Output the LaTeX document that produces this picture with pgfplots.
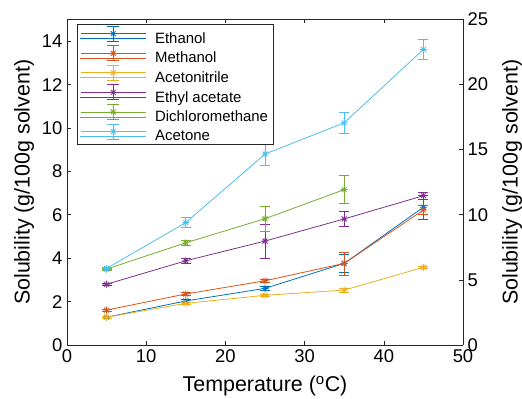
\documentclass[border=0pt]{standalone}
\usepackage{pgfplots}
\pgfplotsset{compat=1.18}
\usepackage{fontspec}
\setmainfont{Liberation Sans}
\usetikzlibrary{calc}
\definecolor{c1}{rgb}{0,0.447,0.741}
\definecolor{c2}{rgb}{0.85,0.325,0.098}
\definecolor{c3}{rgb}{0.929,0.694,0.125}
\definecolor{c4}{rgb}{0.494,0.184,0.556}
\definecolor{c5}{rgb}{0.466,0.674,0.188}
\definecolor{c6}{rgb}{0.301,0.745,0.933}
\definecolor{axgray}{rgb}{0.15,0.15,0.15}
\pgfdeclareplotmark{mstar}{%
 \pgfpathmoveto{\pgfqpoint{-\pgfplotmarksize}{0pt}}\pgfpathlineto{\pgfqpoint{\pgfplotmarksize}{0pt}}%
 \pgfpathmoveto{\pgfqpoint{0pt}{-\pgfplotmarksize}}\pgfpathlineto{\pgfqpoint{0pt}{\pgfplotmarksize}}%
 \pgfpathmoveto{\pgfqpoint{-0.707\pgfplotmarksize}{-0.707\pgfplotmarksize}}\pgfpathlineto{\pgfqpoint{0.707\pgfplotmarksize}{0.707\pgfplotmarksize}}%
 \pgfpathmoveto{\pgfqpoint{-0.707\pgfplotmarksize}{0.707\pgfplotmarksize}}\pgfpathlineto{\pgfqpoint{0.707\pgfplotmarksize}{-0.707\pgfplotmarksize}}%
 \pgfusepathqstroke}
\pgfplotstableread{
x y e
5 1.28 0.05
15 2.03 0.06
25 2.61 0.10
35 3.76 0.42
45 6.35 0.55
}\ethanol
\pgfplotstableread{
x y e
5 1.61 0.04
15 2.35 0.06
25 2.96 0.07
35 3.76 0.53
45 6.22 0.20
}\methanol
\pgfplotstableread{
x y e
5 1.28 0.05
15 1.92 0.06
25 2.29 0.05
35 2.53 0.10
45 3.58 0.06
}\acetonitrile
\pgfplotstableread{
x y e
5 2.80 0.05
15 3.88 0.10
25 4.79 0.78
35 5.81 0.33
45 6.88 0.15
}\ethylacetate
\pgfplotstableread{
x y e
5 3.50 0.05
15 4.71 0.10
25 5.82 0.58
35 7.16 0.65
}\dcm
\pgfplotstableread{
x y e
5 3.53 0.05
15 5.64 0.23
25 8.80 0.54
35 10.24 0.50
45 13.62 0.47
}\acetone
\begin{document}
\begin{tikzpicture}[x=1bp,y=1bp]
\pgfplotsset{
  mybase/.style={
    width=396bp, height=325.5bp, scale only axis,
    xmin=0, xmax=50,
    axis line style={axgray, line width=0.6bp},
    every tick/.style={axgray, line width=0.6bp},
    major tick length=4bp,
    tick align=inside,
    ticklabel style={font=\fontsize{18.5}{19}\selectfont, text=black},
    /pgf/number format/assume math mode=true,
    label style={font=\fontsize{21.5}{22}\selectfont},
  },
  myser/.style={color=#1, line width=0.8bp, mark=mstar, mark size=3.5bp,
    mark options={solid, line width=0.8bp},
    error bars/.cd, y dir=both, y explicit,
    error bar style={line width=0.8bp, color=#1},
    error mark options={rotate=90, mark size=5bp, line width=0.8bp, color=#1}},
}
\begin{axis}[mybase,
  ymin=0, ymax=15,
  xtick={0,10,...,50}, ytick={0,2,...,14},
  xtick pos=both, ytick pos=left,
  axis y line*=left,
  xticklabel style={yshift=-1bp},
  yticklabel style={xshift=-1bp},
  xlabel={Temperature ($^{\mathrm{o}}$C)},
  ylabel={Solubility (g/100g solvent)},
  xlabel style={at={(rel axis cs:0.5,0)}, anchor=center, yshift=-41bp},
  ylabel style={at={(rel axis cs:0,0.5)}, anchor=center, yshift=43bp},
  legend cell align=left,
  legend style={at={(rel axis cs:0,1)}, anchor=north west, xshift=10bp, yshift=-4.5bp,
    draw=axgray, line width=0.6bp,
    font=\fontsize{15}{16}\selectfont, inner xsep=2bp, inner ysep=1.5bp, row sep=0bp,
    nodes={inner xsep=3bp, inner ysep=0.5bp},
    /tikz/every odd column/.append style={column sep=6bp}},
  legend image code/.code={
    \path (0bp,0bp) -- (66bp,0bp);
    \begin{scope}[yshift=5bp]
    \draw[#1] (1bp,0bp) -- (66bp,0bp);
    \draw[#1] (33.5bp,-7.5bp) -- (33.5bp,7.5bp) (27.5bp,-7.5bp) -- (39.5bp,-7.5bp) (27.5bp,7.5bp) -- (39.5bp,7.5bp);
    \draw[#1] (30bp,0bp) -- (37bp,0bp) (33.5bp,-3.5bp) -- (33.5bp,3.5bp)
      (31.03bp,-2.47bp) -- (35.97bp,2.47bp) (31.03bp,2.47bp) -- (35.97bp,-2.47bp);
    \end{scope}
  },
]
\coordinate (bl) at (rel axis cs:0,0);
\coordinate (tr) at (rel axis cs:1,1);
\draw[axgray, line width=0.6bp] (rel axis cs:0,1) -- (rel axis cs:1,1);
\addplot[myser=c1] table[x=x,y=y,y error=e] {\ethanol};
\addlegendentry{Ethanol}
\addplot[myser=c2] table[x=x,y=y,y error=e] {\methanol};
\addlegendentry{Methanol}
\addplot[myser=c3] table[x=x,y=y,y error=e] {\acetonitrile};
\addlegendentry{Acetonitrile}
\addplot[myser=c4] table[x=x,y=y,y error=e] {\ethylacetate};
\addlegendentry{Ethyl acetate}
\addplot[myser=c5] table[x=x,y=y,y error=e] {\dcm};
\addlegendentry{Dichloromethane}
\addplot[myser=c6] table[x=x,y=y,y error=e] {\acetone};
\addlegendentry{Acetone}
\end{axis}
\begin{axis}[mybase,
  ymin=0, ymax=25, ytick={0,5,...,25},
  axis y line*=right, axis x line=none,
  yticklabel style={xshift=1bp},
  ylabel={Solubility (g/100g solvent)},
  ylabel style={at={(rel axis cs:1,0.5)}, anchor=center, yshift=-49bp},
]
\end{axis}
\pgfresetboundingbox
\path[use as bounding box] ($(bl)+(-67bp,-54bp)$) rectangle ($(tr)+(59bp,19.5bp)$);
\end{tikzpicture}
\end{document}
